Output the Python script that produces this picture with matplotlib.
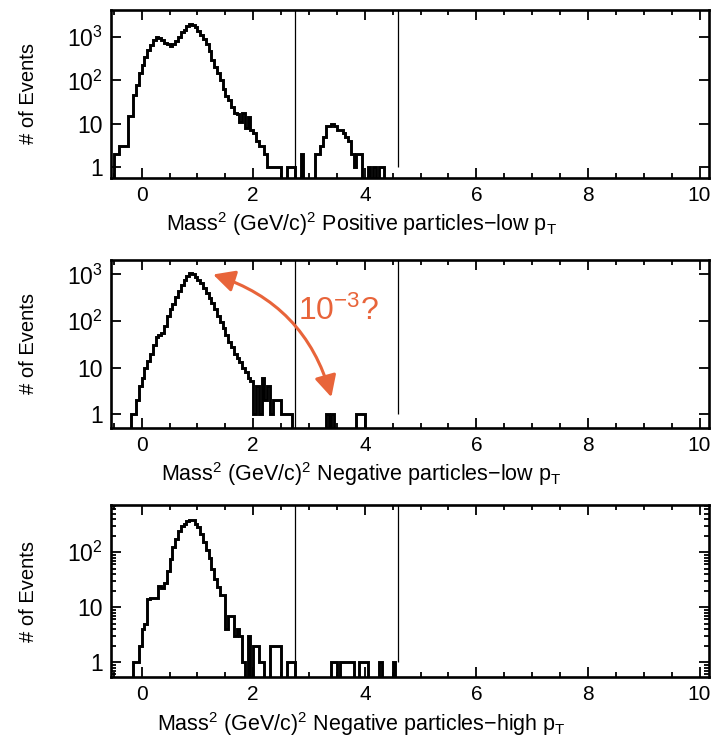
import numpy as np
import matplotlib
matplotlib.use("Agg")
import matplotlib.pyplot as plt
from matplotlib.ticker import FixedLocator, FixedFormatter, MultipleLocator, LogLocator, NullFormatter

plt.rcParams['font.family'] = ['Liberation Sans', 'DejaVu Sans']
plt.rcParams['mathtext.fontset'] = 'custom'
plt.rcParams['mathtext.rm'] = 'Liberation Sans'
plt.rcParams['mathtext.it'] = 'Liberation Sans'
plt.rcParams['mathtext.bf'] = 'Liberation Sans:bold'

# ---- data: counts per 0.05 GeV^2 bin, starting at -0.5 ----
bin_start = -0.5
bin_width = 0.05

pos_low = [2, 2, 3, 3, 3, 15, 15, 45, 80, 150,
           230, 350, 500, 650, 850, 1000, 950, 850, 750, 680,
           640, 680, 800, 1000, 1300, 1500, 1800, 2000, 1950, 1700,
           1400, 1150, 900, 700, 480, 300, 210, 150, 100, 65,
           43, 35, 25, 18, 17, 11, 18, 8, 14, 7,
           6, 4, 3, 3, 2, 1, 1, 1, 1, 1,
           0, 0, 1, 1, 1, 0, 0, 2, 0, 0,
           0, 0, 2, 2, 3, 5, 9, 9, 10, 9,
           7, 7, 6, 5, 4, 2, 1, 2, 2, 0,
           0, 1, 0, 1, 0, 1, 1, 0, 0, 0]

neg_low = [0, 0, 0, 0, 0, 0, 1, 1, 2, 4,
           6, 10, 14, 20, 30, 45, 50, 55, 80, 130,
           180, 230, 330, 450, 600, 780, 950, 1100, 1050, 900,
           780, 650, 520, 400, 310, 240, 180, 130, 95, 70,
           50, 35, 28, 20, 16, 13, 10, 8, 6, 5,
           1, 4, 1, 6, 2, 4, 1, 2, 2, 2,
           1, 1, 1, 1, 0, 0, 0, 0, 0, 0,
           0, 0, 0, 0, 0, 0, 1, 0, 1, 0,
           0, 0, 0, 0, 0, 0, 0, 1, 1, 1,
           0, 0, 0, 0, 0, 0, 0, 0, 0, 0]

neg_high = [0, 0, 0, 0, 0, 0, 0, 1, 1, 2,
            4, 5, 14, 15, 15, 15, 24, 22, 28, 46,
            75, 124, 172, 245, 300, 320, 370, 390, 380, 330,
            290, 213, 150, 110, 80, 50, 33, 23, 17, 17,
            4, 7, 7, 3, 4, 3, 1, 0, 3, 0,
            2, 2, 1, 1, 0, 0, 2, 2, 2, 2,
            0, 0, 1, 1, 1, 0, 0, 0, 0, 0,
            0, 0, 0, 0, 0, 0, 0, 0, 1, 1,
            0, 1, 1, 1, 1, 1, 0, 0, 1, 1,
            1, 0, 0, 0, 0, 1, 0, 0, 0, 0,
            1, 0]

panels = [
    (pos_low, "Positive particles\u2212low p$_\\mathrm{T}$"),
    (neg_low, "Negative particles\u2212low p$_\\mathrm{T}$"),
    (neg_high, "Negative particles\u2212high p$_\\mathrm{T}$"),
]

cut_lo = 2.75
cut_hi = 4.59

y_ranges = [(0.557, 4250), (0.50, 2050), (0.54, 720)]
ytick_vals = [[1, 10, 100, 1000], [1, 10, 100, 1000], [1, 10, 100]]
ytick_labels = [["1", "10", "10$^2$", "10$^3$"],
                ["1", "10", "10$^2$", "10$^3$"],
                ["1", "10", "10$^2$"]]

xlabel_prefix = "Mass$^2$ (GeV/c)$^2$ "

# axes rectangles in pixels (left, top, right, bottom)
W, H = 716, 745
boxes = [(111, 10, 709, 178), (111, 260, 709, 428), (111, 505, 709, 677)]

fig = plt.figure(figsize=(W / 100, H / 100), dpi=100)
orange = '#E8643A'

axes = []
for i, ((counts, desc), (l, t, r, b)) in enumerate(zip(panels, boxes)):
    ax = fig.add_axes([l / W, 1 - b / H, (r - l) / W, (b - t) / H])
    axes.append(ax)
    counts = np.asarray(counts, dtype=float)
    edges = bin_start + bin_width * np.arange(len(counts) + 1)
    drawn = np.where(counts > 0, counts, 0.05)
    ax.set_yscale('log')
    ax.stairs(drawn, edges, baseline=0.05, color='black', lw=2.1)
    ax.set_xlim(-0.55, 10.17)
    ax.set_ylim(*y_ranges[i])
    ax.axvline(cut_lo, color='black', lw=0.9)
    ax.vlines(cut_hi, 1, y_ranges[i][1], color='black', lw=0.9)

    ax.xaxis.set_major_locator(MultipleLocator(2))
    ax.xaxis.set_minor_locator(MultipleLocator(0.5))
    ax.yaxis.set_major_locator(FixedLocator(ytick_vals[i]))
    ax.yaxis.set_major_formatter(FixedFormatter(ytick_labels[i]))
    ax.yaxis.set_minor_locator(LogLocator(base=10, subs=np.arange(2, 10)))
    ax.yaxis.set_minor_formatter(NullFormatter())
    ax.tick_params(which='both', direction='in', top=True, right=True, width=1.3)
    ax.tick_params(axis='x', labelsize=15)
    ax.tick_params(axis='y', labelsize=16.5)
    ax.tick_params(which='major', length=7, pad=6)
    ax.tick_params(which='minor', length=3.5)
    for s in ax.spines.values():
        s.set_linewidth(1.9)

    ax.set_xlabel(xlabel_prefix + desc, fontsize=15.5)
    ax.xaxis.set_label_coords(0.418, -0.19)
    ax.set_ylabel("# of Events", fontsize=14.5)
    ax.yaxis.set_label_coords(-0.122, 0.5)

# annotation in the middle panel
ax2 = axes[1]
ax2.annotate('', xy=(3.40, 2.3), xytext=(1.28, 1000),
             arrowprops=dict(arrowstyle='<|-|>,head_length=0.65,head_width=0.33',
                             connectionstyle='arc3,rad=-0.27', color=orange,
                             lw=2.2, shrinkA=0, shrinkB=0, mutation_scale=20))
ax2.text(2.80, 103, "10$^{-3}$?", color=orange, fontsize=23,
         ha='left', va='baseline')

fig.savefig("out.png", dpi=100)
